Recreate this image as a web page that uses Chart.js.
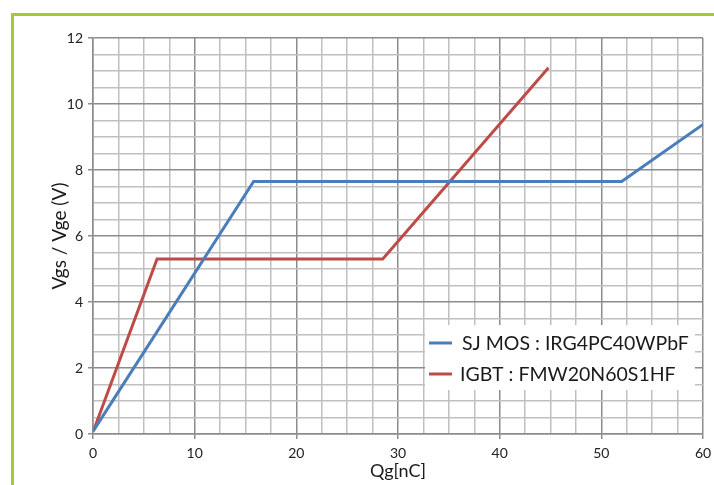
<!DOCTYPE html>
<html>
<head>
<meta charset="utf-8">
<script src="https://cdn.jsdelivr.net/npm/chart.js@4.4.1/dist/chart.umd.min.js"></script>
<style>
  html, body { margin: 0; padding: 0; background: #ffffff; }
  #wrap { position: relative; width: 714px; height: 485px; }
  canvas { display: block; }
</style>
</head>
<body>
<div id="wrap"><canvas id="c" width="714" height="485"></canvas></div>
<script>
// ---- data ----
const seriesLabels = ['SJ MOS : IRG4PC40WPbF', 'IGBT : FMW20N60S1HF'];
const sjQg  = [0, 15.8, 52.0, 60.0];
const sjV   = [0.08, 7.65, 7.65, 9.38];
const igbtQg = [0.15, 6.3, 28.5, 44.8];
const igbtV  = [0.18, 5.3, 5.3, 11.1];
const xTitle = 'Qg[nC]';
const yTitle = 'Vgs / Vge (V)';

const FONT = 'Lato, "Open Sans", "DejaVu Sans", sans-serif';
const MAJOR = '#8c8c8c';
const MINOR = '#c0c0c0';
const BLUE = '#4a7ebb';
const RED = '#be4b48';

function pts(xs, ys) { return xs.map((x, i) => ({ x: x, y: ys[i] })); }

const framePlugin = {
  id: 'frame',
  beforeDraw(chart) {
    const ctx = chart.ctx;
    ctx.save();
    ctx.fillStyle = '#a3c93a';
    ctx.fillRect(11, 13, 714 - 11, 3);
    ctx.fillRect(11, 13, 3, 485 - 13);
    ctx.restore();
  }
};

const legendPlugin = {
  id: 'boxLegend',
  afterDraw(chart) {
    const ctx = chart.ctx;
    const x0 = 425, y0 = 325, w = 270, h = 65;
    ctx.save();
    ctx.fillStyle = '#ffffff';
    ctx.fillRect(x0, y0, w, h);
    const rows = [343, 374];
    chart.data.datasets.forEach((ds, i) => {
      ctx.strokeStyle = ds.borderColor;
      ctx.lineWidth = 3;
      ctx.beginPath();
      ctx.moveTo(429, rows[i]);
      ctx.lineTo(452, rows[i]);
      ctx.stroke();
      ctx.fillStyle = '#1a1a1a';
      ctx.font = '19.5px ' + FONT;
      ctx.textBaseline = 'middle';
      ctx.textAlign = 'left';
      ctx.fillText(ds.label, i === 0 ? 462 : 460, rows[i] + 1);
    });
    ctx.restore();
  }
};

new Chart(document.getElementById('c'), {
  type: 'line',
  data: {
    datasets: [
      { label: seriesLabels[0], data: pts(sjQg, sjV), borderColor: BLUE, backgroundColor: BLUE,
        borderWidth: 3, pointRadius: 0, tension: 0, fill: false },
      { label: seriesLabels[1], data: pts(igbtQg, igbtV), borderColor: RED, backgroundColor: RED,
        borderWidth: 3, pointRadius: 0, tension: 0, fill: false }
    ]
  },
  options: {
    responsive: false,
    animation: false,
    devicePixelRatio: 1,
    layout: { padding: { left: 0, top: 38, right: 11, bottom: 0 } },
    plugins: { legend: { display: false }, tooltip: { enabled: false } },
    scales: {
      x: {
        type: 'linear', min: 0, max: 60,
        afterFit(s) { s.height = 51; s.paddingLeft = 0; s.paddingRight = 0; },
        ticks: {
          stepSize: 2.5, autoSkip: false, maxRotation: 0, padding: 6,
          color: '#222', font: { family: FONT, size: 14 },
          callback: v => (Math.abs(v % 10) < 1e-9 ? String(v) : '')
        },
        grid: {
          lineWidth: 1.5, tickLength: 5,
          color: c => (c.tick && Math.abs(c.tick.value % 10) < 1e-9 ? MAJOR : MINOR),
          tickColor: c => (c.tick && Math.abs(c.tick.value % 10) < 1e-9 ? MAJOR : 'rgba(0,0,0,0)')
        },
        border: { color: MAJOR, width: 1.5 },
        title: { display: true, text: xTitle, color: '#1a1a1a',
                 font: { family: FONT, size: 18 }, padding: { top: 0, bottom: 3 } }
      },
      y: {
        type: 'linear', min: 0, max: 12,
        afterFit(s) { s.width = 93; s.paddingTop = 0; s.paddingBottom = 0; },
        ticks: {
          stepSize: 0.5, autoSkip: false, padding: 5,
          color: '#222', font: { family: FONT, size: 14 },
          callback: v => (Math.abs(v % 2) < 1e-9 ? String(v) : '')
        },
        grid: {
          lineWidth: 1.5, tickLength: 5,
          color: c => (c.tick && Math.abs(c.tick.value % 2) < 1e-9 ? MAJOR : MINOR),
          tickColor: c => (c.tick && Math.abs(c.tick.value % 2) < 1e-9 ? MAJOR : 'rgba(0,0,0,0)')
        },
        border: { color: MAJOR, width: 1.5 },
        title: { display: true, text: yTitle, color: '#1a1a1a',
                 font: { family: FONT, size: 19 }, padding: { top: 48, bottom: 0 } }
      }
    }
  },
  plugins: [framePlugin, legendPlugin]
});
</script>
</body>
</html>
